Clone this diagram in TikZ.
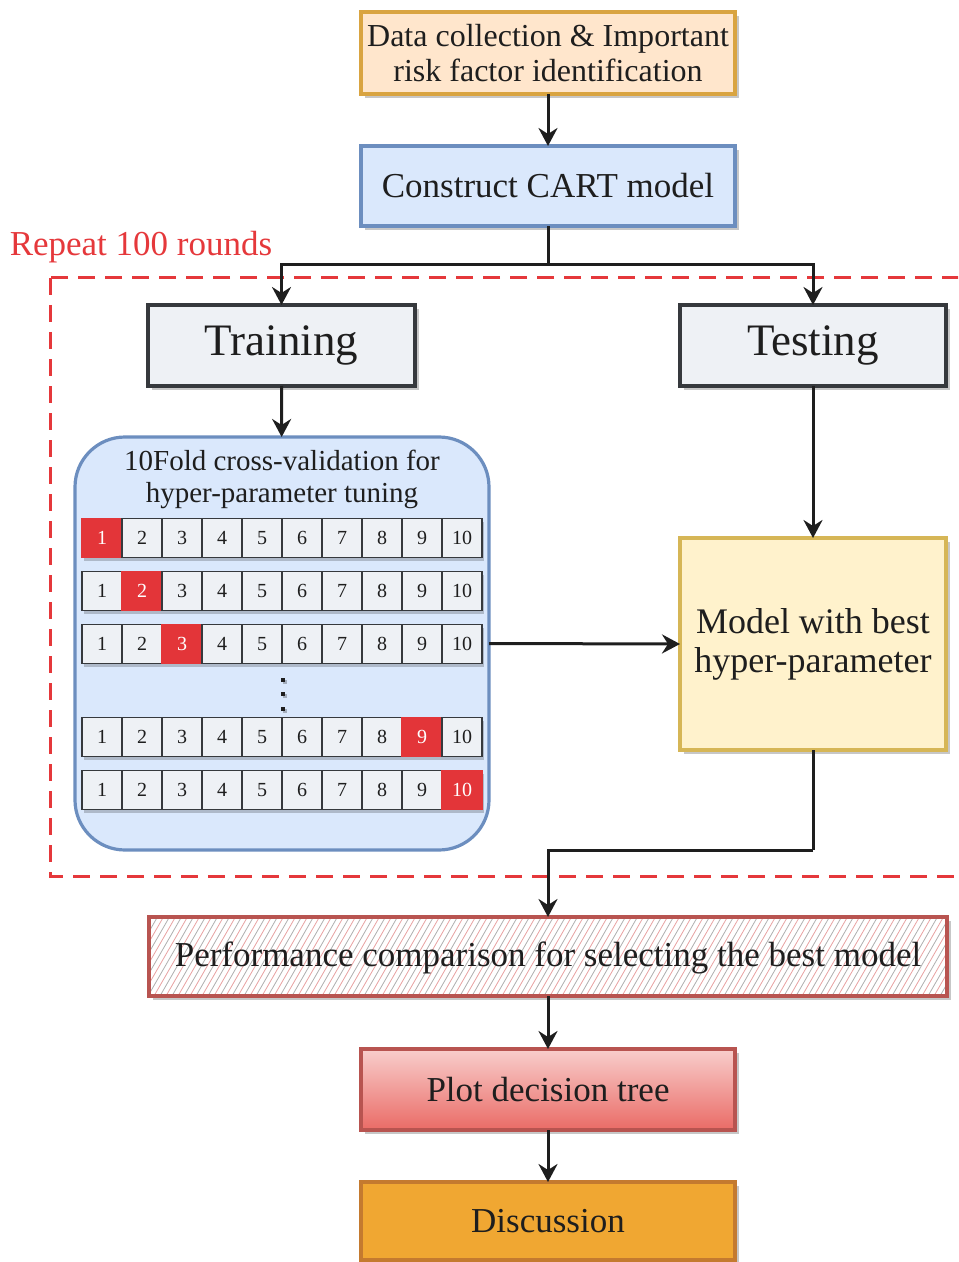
\documentclass[tikz,border=0pt]{standalone}
\usepackage{fontspec}
\setmainfont{Liberation Serif}
\usetikzlibrary{arrows.meta,shadows}
\definecolor{txt}{HTML}{1E1E1E}
\definecolor{orfill}{HTML}{FFE6CC}
\definecolor{ordraw}{HTML}{D9A441}
\definecolor{blfill}{HTML}{DAE8FC}
\definecolor{bldraw}{HTML}{6C8EBF}
\definecolor{gyfill}{HTML}{EEF1F5}
\definecolor{gydraw}{HTML}{36393D}
\definecolor{yefill}{HTML}{FFF2CC}
\definecolor{yedraw}{HTML}{D6B656}
\definecolor{rddraw}{HTML}{B85450}
\definecolor{rdtop}{HTML}{F8CECC}
\definecolor{rdbot}{HTML}{EA6B66}
\definecolor{dsfill}{HTML}{F0A732}
\definecolor{dsdraw}{HTML}{C47A2F}
\definecolor{cellred}{HTML}{E33539}
\definecolor{dashred}{HTML}{E5383B}
\definecolor{hatchred}{HTML}{E9A3A3}
\definecolor{hatchgray}{HTML}{B0B0B0}
\begin{document}
\begin{tikzpicture}[x=0.5pt,y=-0.5pt,
  shad/.style={drop shadow={shadow xshift=2pt,shadow yshift=-2pt,fill=black,opacity=0.22}},
  box/.style={rectangle,line width=1.6pt,inner sep=0pt,outer sep=0pt,align=center,text=txt,shad},
  mainfont/.style={font=\fontsize{17.5}{21}\selectfont},
  bigfont/.style={font=\fontsize{22.5}{26}\selectfont},
  arr/.style={line width=1.5pt,draw=txt,-{Stealth[length=9pt,width=9.5pt,inset=3pt]}},
  ln/.style={line width=1.5pt,draw=txt},
  cellnorm/.style={rectangle,draw=gydraw,fill=gyfill,line width=0.6pt,minimum width=20pt,minimum height=19.5pt,inner sep=0pt,outer sep=0pt,text=txt,font=\fontsize{10}{11}\selectfont,drop shadow={shadow xshift=0.8pt,shadow yshift=-1.5pt,fill=black,opacity=0.2}},
  cellsel/.style={cellnorm,fill=cellred,draw=cellred,text=white},
  dotsq/.style={rectangle,fill=txt,minimum size=2pt,inner sep=0pt,drop shadow={shadow xshift=0.8pt,shadow yshift=-0.8pt,fill=black,opacity=0.25}}
]
\clip (0,0) rectangle (958,1262);
\useasboundingbox (0,0) rectangle (958,1262);

% repeat frame
\draw[dashred,line width=1.5pt,dash pattern=on 8.5pt off 5pt] (50,278) rectangle (1000,876);
\node[text=dashred,font=\fontsize{17.5}{20}\selectfont] (rep) at (141,247) {Repeat 100 rounds};

% boxes
\node[box,fill=orfill,draw=ordraw,minimum width=187pt,minimum height=41pt,font=\fontsize{16}{17.5}\selectfont] (data) at (548,53) {Data collection \& Important\\risk factor identification};
\node[box,mainfont,fill=blfill,draw=bldraw,minimum width=187pt,minimum height=40pt] (cart) at (548,186) {Construct CART model};
\node[box,bigfont,fill=gyfill,draw=gydraw,line width=2pt,minimum width=133.5pt,minimum height=40.5pt] (train) at (281.5,345.5) {Training};
\node[box,bigfont,fill=gyfill,draw=gydraw,line width=2pt,minimum width=133pt,minimum height=40.5pt] (test) at (813,345.5) {Testing};
\node[rectangle,rounded corners=25pt,line width=1.6pt,fill=blfill,draw=bldraw,minimum width=207pt,minimum height=206.5pt,inner sep=0pt,outer sep=0pt] (cv) at (282,643.5) {};
\node[text=txt,align=center,font=\fontsize{14.5}{16}\selectfont] (cvt) at (282,479) {10Fold cross-validation for\\hyper-parameter tuning};
\node[box,fill=yefill,draw=yedraw,minimum width=133pt,minimum height=106pt,font=\fontsize{18}{19.5}\selectfont] (model) at (813,644) {Model with best\\hyper-parameter};

% performance box with hatch
\node[box,draw=rddraw,fill=white,minimum width=399pt,minimum height=39.5pt] (perf) at (548,956.5) {};
\begin{scope}
  \clip (150,918) rectangle (946,995);
  \foreach \k in {0,...,150}{
    \pgfmathsetmacro\xx{100+6*\k}
    \ifodd\k
      \draw[hatchred,line width=0.4pt] (\xx,996) -- ++(46,-80);
    \else
      \draw[hatchgray,line width=0.4pt] (\xx,996) -- ++(46,-80);
    \fi
  }
\end{scope}
\draw[rddraw,line width=1.6pt] (perf.north west) rectangle (perf.south east);
\node[text=txt,font=\fontsize{17.5}{20}\selectfont] (perft) at (548,958) {Performance comparison for selecting the best model};

\node[box,mainfont,top color=rdtop,bottom color=rdbot,draw=rddraw,minimum width=187pt,minimum height=40.5pt] (plot) at (548,1089.5) {Plot decision tree};
\node[box,mainfont,fill=dsfill,draw=dsdraw,minimum width=187pt,minimum height=39pt] (disc) at (548,1221) {Discussion};

% cells
\foreach \r/\yy/\h in {1/538/1,2/591/2,3/644/3,4/737/9,5/790/10}{
  \foreach \i in {1,...,10}{
    \pgfmathsetmacro\xc{62+40*\i}
    \ifnum\i=\h \def\st{cellsel}\else\def\st{cellnorm}\fi
    \node[\st] (c-\r-\i) at (\xc,\yy) {\i};
  }
}
\node[dotsq] (d1) at (283,680) {};
\node[dotsq] (d2) at (283,694) {};
\node[dotsq] (d3) at (283,709) {};

% connectors
\coordinate (split) at (548,265);
\coordinate (join) at (813,850);
\draw[arr] (data) -- (cart);
\draw[ln] (cart.south) -- (split);
\draw[arr] (split) -| (train.north);
\draw[arr] (split) -| (test.north);
\draw[arr] (train) -- (cv);
\draw[arr] (cv.east) -- (model.west);
\draw[arr] (test) -- (model);
\draw[ln] (model.south) -- (join);
\draw[arr] (join) -| (perf.north);
\draw[arr] (perf) -- (plot);
\draw[arr] (plot) -- (disc);
\end{tikzpicture}
\end{document}
